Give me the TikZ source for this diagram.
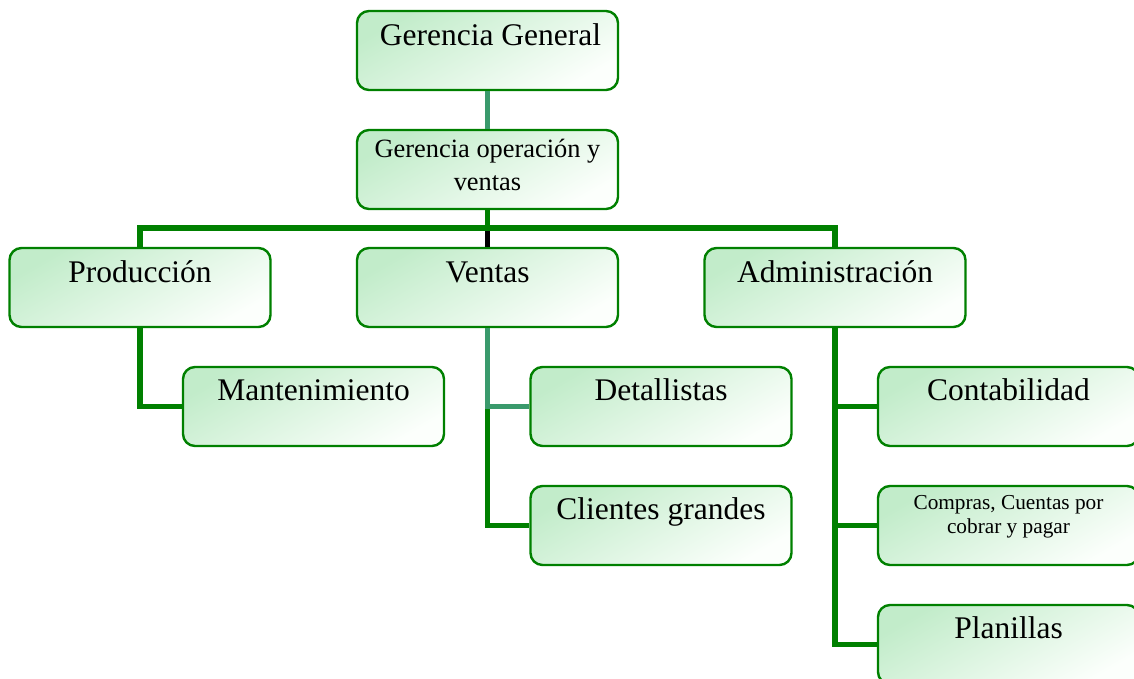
\documentclass[tikz,border=0pt]{standalone}
\usepackage{fontspec}
\setmainfont{Liberation Serif}
\usetikzlibrary{calc}

\definecolor{boxline}{RGB}{0,128,0}
\definecolor{boxfill}{RGB}{194,236,202}
\definecolor{boxfade}{RGB}{252,255,252}
\definecolor{linkgreen}{RGB}{0,128,0}
\definecolor{linkteal}{RGB}{58,154,108}

\tikzset{
  x=1pt, y=1pt,
  orgbox/.style={draw=boxline, line width=2.4pt, rounded corners=12pt,
    minimum width=261pt, minimum height=79pt, inner sep=0pt,
    top color=boxfill, bottom color=boxfade, shading angle=30},
  bigtext/.style={anchor=base, inner sep=0pt, font=\fontsize{31.5}{36}\selectfont},
  % for two-line labels the base anchor sits on the last line
  midtext/.style={anchor=base, inner sep=0pt, align=center, font=\fontsize{26.4}{33}\selectfont},
  smalltext/.style={anchor=base, inner sep=0pt, align=center, font=\fontsize{21.3}{24.5}\selectfont},
  link/.style={draw=linkgreen, line width=5.5pt},
  linkt/.style={draw=linkteal, line width=5.5pt},
  linkk/.style={draw=black, line width=5.5pt},
}

\begin{document}
\begin{tikzpicture}
  \useasboundingbox (0,0) rectangle (1134,-678);
  \clip (0,0) rectangle (1134,-678);

  % connector junction on the horizontal bar
  \coordinate (bar) at (487.5,-228);

  % boxes
  \node[orgbox] (gg)   at (487.5,-50.5)  {};
  \node[orgbox] (go)   at (487.5,-169.5) {};
  \node[orgbox] (prod) at (140,-287.5)   {};
  \node[orgbox] (ven)  at (487.5,-287.5) {};
  \node[orgbox] (adm)  at (835,-287.5)   {};
  \node[orgbox] (mant) at (313.5,-406.5) {};
  \node[orgbox] (det)  at (661,-406.5)   {};
  \node[orgbox] (cli)  at (661,-525.5)   {};
  \node[orgbox] (cont) at (1008.5,-406.5) {};
  \node[orgbox] (comp) at (1008.5,-525.5) {};
  \node[orgbox] (plan) at (1008.5,-644.5) {};

  % connectors
  \draw[linkt] (gg.south) -- (go.north);
  \draw[link] (prod.north) |- (bar) -| (adm.north);
  \draw[link] (go.south) -- (bar);
  \draw[linkk] ($(bar)+(0,-2.75)$) -- (ven.north);
  \draw[link] (prod.south) |- (mant.west);
  \draw[link] (ven.south |- det.west) |- (cli.west);
  \draw[linkt] (ven.south) |- (det.west);
  \draw[link] (adm.south) |- (cont.west);
  \draw[link] (adm.south) |- (comp.west);
  \draw[link] (adm.south) |- (plan.west);

  % labels
  \node[bigtext] (ggt) at ($(gg.north)+(3,-36)$) {Gerencia General};
  \node[midtext] (got) at ($(go.north)+(0,-62)$) {Gerencia operación y\\ventas};
  \node[bigtext] (prodt) at ($(prod.north)+(0,-36)$) {Producción};
  \node[bigtext] (vent) at ($(ven.north)+(0,-36)$) {Ventas};
  \node[bigtext] (admt) at ($(adm.north)+(0,-36)$) {Administración};
  \node[bigtext] (mantt) at ($(mant.north)+(0,-35)$) {Mantenimiento};
  \node[bigtext] (dett) at ($(det.north)+(0,-35)$) {Detallistas};
  \node[bigtext] (clit) at ($(cli.north)+(0,-35)$) {Clientes grandes};
  \node[bigtext] (contt) at ($(cont.north)+(0,-35)$) {Contabilidad};
  \node[smalltext] (compt) at ($(comp.north)+(0,-49)$) {Compras, Cuentas por\\cobrar y pagar};
  \node[bigtext] (plant) at ($(plan.north)+(0,-35)$) {Planillas};
\end{tikzpicture}
\end{document}
